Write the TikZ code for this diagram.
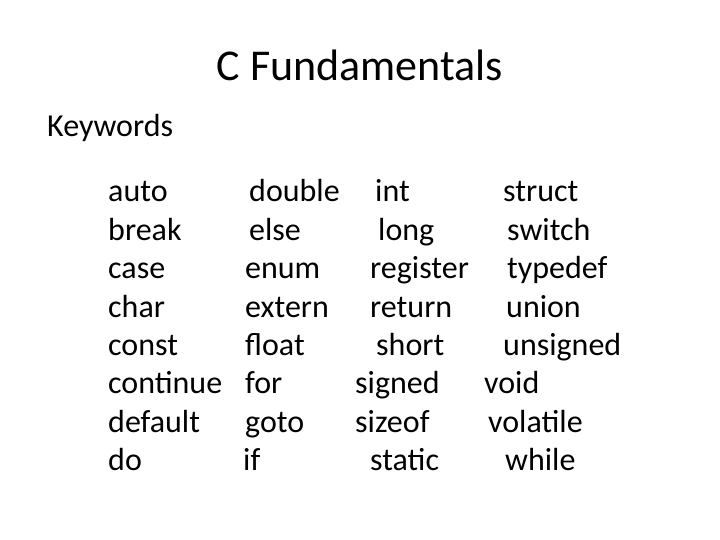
\documentclass[tikz,border=0pt]{standalone}
\usepackage{fontspec}
\setmainfont{Carlito}
\tikzset{kw/.style={anchor=base west,inner sep=0pt,font=\fontsize{32}{36}\selectfont}}
\begin{document}
\begin{tikzpicture}[x=1pt,y=-1pt]
    \useasboundingbox (0,0) rectangle (720,540);
    \node[anchor=base,inner sep=0pt,font=\fontsize{44}{48}\selectfont] (title) at (360,81) {C Fundamentals};
    \node[kw] (keywords) at (47,137) {Keywords};
    % columns of keywords: x position / word, one row per item
    \foreach \w [count=\i] in {auto,break,case,char,const,continue,default,do}
        \node[kw] (a\i) at (108,{163.5+38.4*\i}) {\w};
    \foreach \x/\w [count=\i] in {249/double,249/else,245/enum,245/extern,245/float,245/for,245/goto,243/if}
        \node[kw] (b\i) at (\x,{163.5+38.4*\i}) {\w};
    \foreach \x/\w [count=\i] in {375/int,378/long,370/register,370/return,376/short,355/signed,355/sizeof,370/static}
        \node[kw] (c\i) at (\x,{163.5+38.4*\i}) {\w};
    \foreach \x/\w [count=\i] in {503/struct,507/switch,507/typedef,506/union,503/unsigned,484/void,488/volatile,505/while}
        \node[kw] (d\i) at (\x,{163.5+38.4*\i}) {\w};
\end{tikzpicture}
\end{document}
